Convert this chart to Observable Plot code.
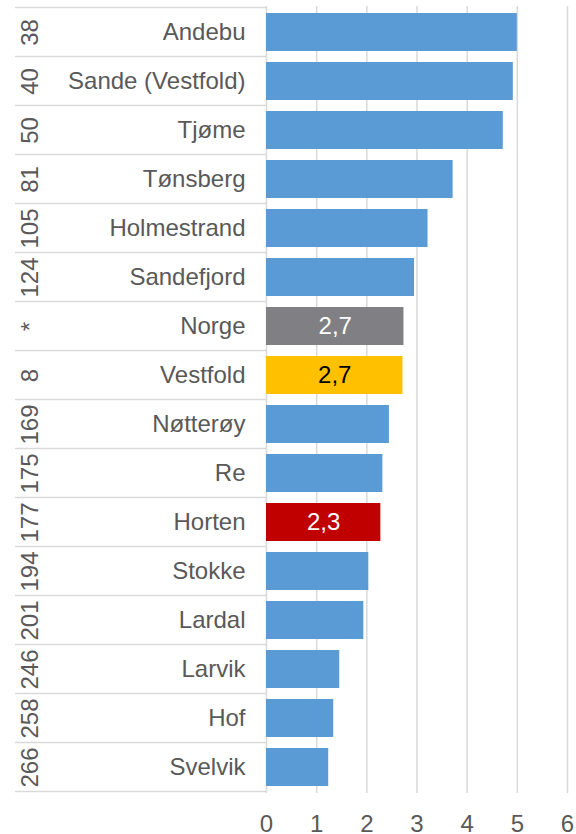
<!DOCTYPE html>
<html><head><meta charset="utf-8">
<script src="https://cdn.jsdelivr.net/npm/d3@7"></script>
<script src="https://cdn.jsdelivr.net/npm/@observablehq/plot@0.6"></script>
<style>body{margin:0;background:#fff} svg{display:block}</style>
</head><body><div id="chart"></div>
<script>
const names = ["Andebu","Sande (Vestfold)","Tjøme","Tønsberg","Holmestrand","Sandefjord","Norge","Vestfold","Nøtterøy","Re","Horten","Stokke","Lardal","Larvik","Hof","Svelvik"];
const ranks = ["38","40","50","81","105","124","*","8","169","175","177","194","201","246","258","266"];
const values = [5.00,4.92,4.72,3.72,3.22,2.95,2.74,2.72,2.45,2.32,2.28,2.04,1.94,1.46,1.34,1.24];
const barColors = ["#5b9bd5","#5b9bd5","#5b9bd5","#5b9bd5","#5b9bd5","#5b9bd5","#808084","#ffc000","#5b9bd5","#5b9bd5","#c00000","#5b9bd5","#5b9bd5","#5b9bd5","#5b9bd5","#5b9bd5"];
const barLabels = ["","","","","","","2,7","2,7","","","2,3","","","","",""];
const barLabelColors = ["#fff","#fff","#fff","#fff","#fff","#fff","#fff","#000","#fff","#fff","#fff","#fff","#fff","#fff","#fff","#fff"];
const xTicks = [0,1,2,3,4,5,6];

const data = names.map((n,i)=>({name:n, rank:ranks[i], value:values[i], color:barColors[i], label:barLabels[i], labelColor:barLabelColors[i]}));

const FONT = "Liberation Sans, Arial, sans-serif";
const TABLE_LEFT = 15;
function tableLines(index, scales, values, dimensions) {
  const y = scales.y, x = scales.x;
  const bw = typeof y.bandwidth === "function" ? y.bandwidth() : (y.bandwidth ?? 0);
  const st = typeof y.step === "function" ? y.step() : (y.step ?? Math.abs(y(names[1]) - y(names[0])));
  const gap = (st - bw) / 2;
  const ys = names.map(n => y(n) - gap);
  ys.push(y(names[names.length-1]) + bw + gap);
  const g = d3.create("svg:g");
  g.selectAll("line").data(ys).join("line")
    .attr("x1", TABLE_LEFT).attr("x2", x(0))
    .attr("y1", d=>d).attr("y2", d=>d)
    .attr("stroke", "#d9d9d9").attr("stroke-width", 1.5);
  return g.node();
}

const chart = Plot.plot({
  width: 576, height: 834,
  marginLeft: 266, marginRight: 9, marginTop: 6, marginBottom: 41,
  style: {fontFamily: FONT, fontSize: "24px", color: "#595959", background: "#fff"},
  x: {domain: [0, 6], axis: null, label: null},
  y: {domain: names, paddingInner: 0.22, paddingOuter: 0.11, axis: null, label: null},
  marks: [
    Plot.gridX(xTicks, {stroke: "#d9d9d9", strokeOpacity: 1, strokeWidth: 1.5}),
    tableLines,
    Plot.barX(data, {x: "value", y: "name", fill: "color"}),
    Plot.text(data.filter(d => d.label), {x: d => d.value / 2, y: "name", text: "label", fill: "labelColor", fontSize: 24, fontFamily: FONT}),
    Plot.text(data, {x: 0, y: "name", text: "name", textAnchor: "end", dx: -21, fill: "#595959", fontSize: 24, fontFamily: FONT}),
    Plot.text(data, {x: 0, y: "name", text: "rank", rotate: -90, dx: -236, fill: "#595959", fontSize: 24, fontFamily: FONT}),
    Plot.axisX({ticks: xTicks, tickSize: 0, tickPadding: 21, fontSize: 24, fontFamily: FONT, tickFormat: d => String(d), fill: "#595959", label: null})
  ]
});
document.getElementById("chart").append(chart);
</script>
</body></html>
